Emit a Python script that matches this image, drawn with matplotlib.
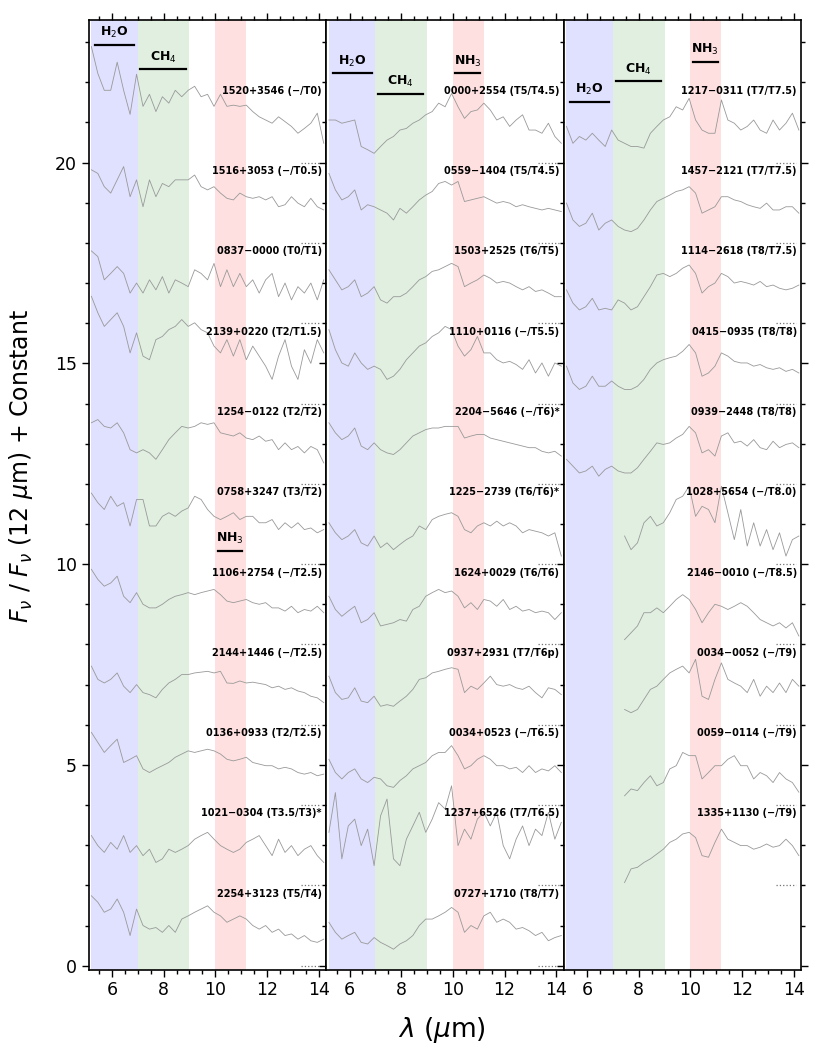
import numpy as np
import matplotlib.pyplot as plt
from matplotlib.ticker import MultipleLocator

NA = np.nan

# wavelength grid (um) the spectra were read at
WAVE = [5.2, 5.45, 5.7, 5.95, 6.2, 6.45, 6.7, 6.95, 7.2, 7.45, 7.7, 7.95, 8.2,
        8.45, 8.7, 8.95, 9.2, 9.45, 9.7, 9.95, 10.2, 10.45, 10.7, 10.95, 11.2,
        11.45, 11.7, 11.95, 12.2, 12.45, 12.7, 12.95, 13.2, 13.45, 13.7, 13.95, 14.2]

# normalised fluxes F(lambda)/F(12um), top to bottom in each panel
LEFT_NAMES = ["1520+3546 (\u2212/T0)", "1516+3053 (\u2212/T0.5)", "0837\u22120000 (T0/T1)",
              "2139+0220 (T2/T1.5)", "1254\u22120122 (T2/T2)", "0758+3247 (T3/T2)",
              "1106+2754 (\u2212/T2.5)", "2144+1446 (\u2212/T2.5)", "0136+0933 (T2/T2.5)",
              "1021\u22120304 (T3.5/T3)*", "2254+3123 (T5/T4)"]
LEFT_FLUX = [
    [2.89, 2.22, 1.80, 1.80, 2.50, 1.80, 1.20, 2.20, 1.40, 1.70, 1.27, 1.64, 1.48, 1.80, 1.64, 1.80, 1.90, 1.64, 1.70,
     1.40, 1.70, 1.40, 1.43, 1.40, 1.43, 1.27, 1.14, 1.06, 0.98, 1.14, 1.02, 0.90, 0.73, 0.85, 0.98, 1.23, 0.48],
    [1.82, 1.73, 1.40, 1.24, 1.57, 1.90, 1.15, 1.57, 0.90, 1.57, 1.15, 1.48, 1.40, 1.57, 1.57, 1.57, 1.69, 1.40, 1.32,
     1.40, 1.24, 1.11, 1.07, 1.24, 1.15, 1.11, 1.15, 1.07, 1.15, 0.90, 0.95, 1.15, 0.99, 0.90, 1.11, 0.90, 0.82],
    [1.80, 1.66, 1.08, 1.24, 1.41, 1.24, 0.75, 1.00, 0.75, 1.08, 0.83, 1.16, 0.75, 1.08, 1.00, 0.91, 1.33, 1.24, 1.08,
     1.49, 0.91, 1.33, 0.91, 1.24, 0.91, 1.08, 0.75, 1.08, 1.24, 0.66, 1.00, 0.58, 0.91, 0.75, 1.00, 0.58, 1.08],
    [2.67, 2.26, 1.92, 2.09, 2.26, 1.92, 1.26, 1.76, 1.18, 1.09, 1.59, 1.67, 1.84, 1.92, 2.09, 1.92, 2.01, 1.84, 1.76,
     1.43, 1.26, 1.59, 1.18, 1.59, 1.09, 1.43, 1.18, 0.93, 0.60, 1.18, 1.59, 0.93, 0.60, 1.34, 1.00, 1.59, 1.26],
    [1.52, 1.60, 1.43, 1.39, 1.52, 1.27, 0.85, 0.77, 0.85, 0.77, 0.61, 0.85, 1.10, 1.27, 1.43, 1.39, 1.43, 1.52, 1.48,
     1.52, 1.27, 1.23, 1.19, 1.27, 1.14, 1.10, 1.19, 1.06, 1.10, 0.85, 1.02, 0.85, 0.93, 0.77, 0.93, 0.85, 0.52],
    [1.77, 1.53, 1.36, 1.69, 1.44, 1.53, 0.95, 1.61, 1.61, 0.95, 0.95, 1.19, 1.28, 1.19, 1.32, 1.40, 1.69, 1.61, 1.36,
     1.19, 1.11, 1.19, 1.28, 1.11, 1.19, 1.19, 1.03, 1.03, 1.11, 0.86, 1.03, 0.90, 1.03, 0.86, 0.90, 0.78, 0.86],
    [1.87, 1.62, 1.45, 1.53, 1.70, 1.20, 1.04, 1.29, 1.00, 0.91, 0.91, 1.00, 1.12, 1.20, 1.24, 1.29, 1.24, 1.29, 1.33,
     1.37, 1.24, 1.08, 1.04, 1.08, 1.12, 1.04, 1.00, 1.04, 0.91, 0.91, 0.83, 0.95, 0.79, 0.87, 0.83, 0.95, 0.79],
    [1.46, 1.13, 1.04, 1.13, 1.29, 0.96, 0.80, 1.00, 0.80, 0.75, 0.67, 0.88, 1.04, 1.13, 1.25, 1.25, 1.29, 1.31, 1.33,
     1.29, 1.33, 1.04, 1.03, 1.09, 1.04, 1.06, 1.03, 1.00, 0.92, 0.96, 0.88, 0.92, 0.84, 0.80, 0.71, 0.67, 0.55],
    [1.81, 1.56, 1.31, 1.48, 1.64, 1.06, 1.14, 1.23, 0.90, 0.81, 0.90, 0.98, 1.06, 1.19, 1.27, 1.35, 1.31, 1.35, 1.39,
     1.35, 1.27, 1.14, 1.10, 1.14, 1.19, 1.06, 1.02, 0.98, 0.98, 0.90, 0.94, 0.90, 0.81, 0.77, 0.81, 0.73, 0.77],
    [1.24, 0.99, 0.82, 1.07, 0.90, 1.24, 0.82, 0.99, 0.74, 0.90, 0.57, 0.66, 0.90, 0.82, 0.90, 0.99, 1.15, 1.24, 1.32,
     1.15, 0.99, 0.90, 0.82, 0.90, 1.07, 1.15, 1.24, 0.99, 0.74, 1.15, 0.82, 0.99, 0.74, 0.90, 0.99, 0.74, 0.57],
    [1.74, 1.58, 1.33, 1.41, 1.66, 1.33, 0.75, 1.41, 1.00, 0.91, 0.95, 0.83, 1.00, 0.83, 1.16, 1.24, 1.33, 1.41, 1.49,
     1.33, 1.24, 1.08, 1.16, 1.24, 1.16, 1.00, 0.91, 1.00, 0.83, 0.91, 0.75, 0.79, 0.66, 0.75, 0.62, 0.58, 0.66],
]

MID_NAMES = ["0000+2554 (T5/T4.5)", "0559\u22121404 (T5/T4.5)", "1503+2525 (T6/T5)",
             "1110+0116 (\u2212/T5.5)", "2204\u22125646 (\u2212/T6)*", "1225\u22122739 (T6/T6)*",
             "1624+0029 (T6/T6)", "0937+2931 (T7/T6p)", "0034+0523 (\u2212/T6.5)",
             "1237+6526 (T7/T6.5)", "0727+1710 (T8/T7)"]
MID_FLUX = [
    [1.06, 1.06, 0.98, 1.02, 1.06, 0.40, 0.32, 0.23, 0.40, 0.56, 0.65, 0.81, 0.85, 0.98, 1.06, 1.19, 1.27, 1.48, 1.39,
     1.72, 1.39, 1.10, 1.27, 1.31, 1.48, 1.31, 1.06, 1.14, 0.90, 1.06, 1.19, 0.81, 0.81, 0.73, 0.98, 0.65, 0.48],
    [1.73, 1.32, 1.07, 1.15, 1.32, 0.82, 0.95, 0.90, 0.82, 0.74, 0.57, 0.86, 0.74, 0.90, 1.07, 1.19, 1.28, 1.48, 1.53,
     1.44, 1.53, 1.03, 1.07, 1.11, 1.15, 1.07, 0.99, 1.03, 0.99, 0.90, 0.95, 0.90, 0.86, 0.82, 0.86, 0.82, 0.78],
    [1.33, 1.08, 0.83, 0.91, 1.08, 0.66, 0.75, 0.91, 0.58, 0.50, 0.66, 0.66, 0.75, 0.91, 1.08, 1.16, 1.29, 1.33, 1.41,
     1.49, 1.41, 0.91, 1.00, 1.08, 1.20, 1.12, 1.00, 1.04, 1.00, 0.91, 0.83, 0.91, 0.79, 0.83, 0.75, 0.66, 0.66],
    [1.84, 1.34, 1.01, 0.93, 1.26, 1.01, 0.85, 0.93, 0.85, 0.60, 0.68, 0.85, 1.09, 1.26, 1.43, 1.51, 1.67, 1.76, 1.92,
     1.84, 1.43, 1.18, 1.34, 1.67, 1.26, 1.26, 1.09, 1.01, 1.05, 0.97, 0.85, 1.09, 0.76, 1.01, 0.68, 1.01, 0.93],
    [1.52, 1.27, 1.10, 1.19, 1.39, 0.94, 0.85, 1.02, 0.85, 0.77, 0.73, 0.85, 1.02, 1.19, 1.27, 1.35, 1.39, 1.39, 1.43,
     1.43, 1.43, 1.14, 1.19, 1.23, 1.23, 1.14, 1.10, 1.06, 1.02, 0.98, 0.94, 0.90, 0.90, 0.81, 0.77, 0.81, 0.69],
    [1.03, 0.78, 0.61, 0.70, 0.86, 0.53, 0.45, 0.70, 0.41, 0.53, 0.36, 0.49, 0.61, 0.70, 0.95, 0.86, 1.11, 1.19, 1.24,
     1.28, 1.19, 0.86, 0.78, 0.95, 1.03, 0.95, 1.07, 0.95, 1.03, 0.95, 0.78, 0.86, 0.82, 0.78, 0.70, 0.78, 0.20],
    [1.20, 0.87, 0.70, 0.83, 0.95, 0.54, 0.62, 0.79, 0.46, 0.50, 0.54, 0.62, 0.58, 0.87, 0.95, 1.20, 1.29, 1.37, 1.29,
     1.33, 1.20, 0.91, 1.04, 0.87, 1.12, 1.08, 0.95, 1.12, 0.87, 0.95, 0.83, 0.87, 0.79, 0.83, 0.79, 0.62, 0.79],
    [1.21, 0.80, 0.63, 0.67, 0.92, 0.59, 0.55, 0.71, 0.46, 0.50, 0.46, 0.59, 0.71, 0.88, 1.13, 1.17, 1.29, 1.33, 1.38,
     1.42, 1.38, 0.80, 0.96, 0.88, 1.04, 1.21, 1.00, 0.96, 1.00, 0.92, 0.88, 0.96, 0.80, 0.67, 0.92, 0.88, 0.75],
    [1.14, 0.81, 0.65, 0.81, 0.90, 0.65, 0.56, 0.69, 0.65, 0.48, 0.44, 0.61, 0.73, 0.90, 0.98, 1.06, 1.23, 1.31, 1.31,
     1.48, 1.23, 0.90, 0.98, 1.14, 1.23, 1.14, 0.98, 0.98, 0.90, 0.94, 0.81, 0.98, 0.81, 0.90, 0.85, 0.98, 0.81],
    [1.32, 2.31, 0.66, 1.48, 1.65, 0.99, 1.40, 0.49, 1.73, 2.15, 0.66, 0.49, 1.15, 1.48, 1.82, 1.32, 1.65, 2.06, 1.90,
     2.48, 0.99, 1.40, 1.15, 1.65, 1.82, 1.48, 1.82, 0.99, 0.66, 1.15, 1.48, 0.99, 1.40, 1.24, 1.82, 1.15, 1.57],
    [1.08, 0.83, 0.66, 0.75, 0.83, 0.58, 0.54, 0.70, 0.58, 0.50, 0.41, 0.54, 0.62, 0.75, 1.00, 1.16, 1.16, 1.24, 1.33,
     1.45, 1.33, 0.83, 1.00, 0.91, 1.24, 1.33, 1.08, 1.16, 1.08, 0.91, 0.95, 0.87, 0.75, 0.83, 0.62, 0.70, 0.75],
]

RIGHT_NAMES = ["1217\u22120311 (T7/T7.5)", "1457\u22122121 (T7/T7.5)", "1114\u22122618 (T8/T7.5)",
               "0415\u22120935 (T8/T8)", "0939\u22122448 (T8/T8)", "1028+5654 (\u2212/T8.0)",
               "2146\u22120010 (\u2212/T8.5)", "0034\u22120052 (\u2212/T9)", "0059\u22120114 (\u2212/T9)",
               "1335+1130 (\u2212/T9)"]
RIGHT_FLUX = [
    [0.90, 0.48, 0.65, 0.56, 0.73, 0.56, 0.40, 0.81, 0.56, 0.48, 0.40, 0.40, 0.36, 0.73, 0.90, 1.06, 1.14, 1.39, 1.31,
     1.60, 1.06, 0.81, 0.73, 0.73, 1.56, 1.06, 0.98, 0.81, 0.90, 1.06, 0.81, 0.73, 1.06, 0.81, 0.98, 1.23, 0.81],
    [0.99, 0.57, 0.41, 0.49, 0.74, 0.32, 0.49, 0.57, 0.41, 0.32, 0.28, 0.36, 0.57, 0.82, 1.03, 1.11, 1.19, 1.28, 1.32,
     1.40, 1.24, 0.74, 0.82, 0.90, 1.15, 1.15, 1.07, 1.03, 0.95, 0.90, 0.86, 0.99, 0.82, 0.82, 0.90, 0.90, 0.74],
    [0.83, 0.50, 0.33, 0.41, 0.62, 0.33, 0.37, 0.33, 0.58, 0.50, 0.33, 0.41, 0.66, 0.91, 1.20, 1.24, 1.16, 1.24, 1.37,
     1.45, 1.24, 0.75, 0.91, 1.00, 1.24, 1.16, 1.00, 1.04, 1.00, 0.95, 1.04, 0.91, 0.95, 0.87, 0.83, 0.87, 0.95],
    [0.93, 0.51, 0.35, 0.43, 0.68, 0.43, 0.43, 0.56, 0.43, 0.35, 0.35, 0.43, 0.60, 0.85, 1.01, 1.09, 1.14, 1.18, 1.30,
     1.47, 1.26, 0.68, 0.76, 0.93, 1.26, 1.18, 1.05, 1.01, 1.01, 0.93, 0.97, 0.89, 0.85, 0.89, 0.80, 0.85, 0.76],
    [0.61, 0.44, 0.27, 0.32, 0.44, 0.19, 0.36, 0.44, 0.32, 0.27, 0.27, 0.40, 0.61, 0.81, 1.02, 0.98, 1.02, 1.14, 1.23,
     1.43, 1.27, 0.77, 0.85, 0.69, 1.19, 1.27, 1.02, 1.06, 0.94, 1.10, 0.90, 0.85, 1.06, 0.90, 0.98, 1.02, 0.90],
    [NA, NA, NA, NA, NA, NA, NA, NA, NA, 0.70, 0.36, 0.53, 1.03, 1.19, 0.95, 1.03, 1.28, 1.61, 1.69,
     1.94, 1.19, 1.44, 1.36, 1.03, 1.94, 1.28, 0.61, 1.36, 0.45, 1.03, 0.45, 0.86, 0.36, 0.78, 0.20, 0.61, 0.70],
    [NA, NA, NA, NA, NA, NA, NA, NA, NA, 0.12, 0.29, 0.46, 0.79, 0.79, 0.91, 0.79, 0.95, 1.12, 1.24,
     1.12, 0.87, 0.54, 0.79, 1.00, 0.95, 0.87, 0.95, 1.04, 0.95, 0.79, 0.62, 0.54, 0.46, 0.54, 0.41, 0.54, 0.21],
    [NA, NA, NA, NA, NA, NA, NA, NA, NA, 0.38, 0.30, 0.38, 0.63, 0.88, 0.96, 1.13, 1.29, 1.38, 1.46,
     1.29, 1.63, 0.71, 0.63, 1.13, 1.54, 1.13, 1.04, 0.96, 0.80, 1.13, 0.71, 0.96, 0.80, 1.04, 0.80, 1.13, 0.96],
    [NA, NA, NA, NA, NA, NA, NA, NA, NA, 0.23, 0.40, 0.36, 0.56, 0.73, 0.48, 0.56, 0.90, 0.98, 1.31,
     1.23, 1.23, 0.65, 0.81, 0.98, 0.98, 1.14, 1.23, 0.98, 0.98, 0.65, 0.81, 0.73, 0.56, 0.81, 0.65, 0.56, 0.32],
    [NA, NA, NA, NA, NA, NA, NA, NA, NA, 0.07, 0.41, 0.45, 0.57, 0.66, 0.78, 0.90, 1.07, 1.15, 1.28,
     1.32, 1.19, 0.74, 0.70, 1.07, 1.40, 1.15, 1.07, 0.99, 0.99, 0.90, 0.95, 1.03, 0.95, 0.99, 1.15, 0.99, 0.74],
]

# molecular band regions (um)
BANDS = [("H$_2$O", 5.2, 7.0, "blue"), ("CH$_4$", 7.0, 9.0, "green"), ("NH$_3$", 10.0, 11.2, "red")]
BAR_X = [(5.35, 6.85), (7.1, 8.85), (10.1, 11.05)]
# height of the H2O, CH4, NH3 markers in each panel
BAR_Y = [(22.93, 22.32, 10.32), (22.22, 21.72, 22.22), (21.52, 22.02, 22.51)]

panels = [(LEFT_NAMES, LEFT_FLUX), (MID_NAMES, MID_FLUX), (RIGHT_NAMES, RIGHT_FLUX)]

fig, axes = plt.subplots(1, 3, figsize=(8.22, 10.54), dpi=100, sharey=True)
fig.subplots_adjust(left=0.108, right=0.975, bottom=0.08, top=0.981, wspace=0)

wave = np.array(WAVE)
for ax, (names, fluxes), bar_y in zip(axes, panels, BAR_Y):
    for (mol, x0, x1, col), (bx0, bx1), by in zip(BANDS, BAR_X, bar_y):
        ax.axvspan(x0, x1, color=col, alpha=0.12, lw=0, zorder=0)
        ax.plot([bx0, bx1], [by, by], color="k", lw=1.6)
        ax.text((bx0 + bx1) / 2, by + 0.12, mol, ha="center", va="bottom",
                fontsize=9, fontweight="bold")
    for i, (name, flux) in enumerate(zip(names, fluxes)):
        off = 20 - 2 * i
        ax.plot(wave, np.array(flux) + off, color="0.6", lw=0.6)
        ax.plot([13.3, 14.1], [off, off], ls=":", color="0.45", lw=0.9)
        ax.text(14.12, off + 1.79, name, ha="right", va="center", fontsize=7, fontweight="bold")

    ax.set_xlim(5.1, 14.3)
    ax.set_ylim(-0.1, 23.55)
    ax.xaxis.set_major_locator(MultipleLocator(2))
    ax.xaxis.set_minor_locator(MultipleLocator(0.5))
    ax.yaxis.set_major_locator(MultipleLocator(5))
    ax.yaxis.set_minor_locator(MultipleLocator(1))
    ax.tick_params(which="both", direction="out", top=True, right=True, labelsize=12.5, width=1)
    ax.tick_params(which="major", length=5)
    ax.tick_params(which="minor", length=3)
    for s in ax.spines.values():
        s.set_linewidth(1.2)

axes[0].set_ylabel(r"$F_\nu$ / $F_\nu$ (12 $\mu$m) + Constant", fontsize=17)
axes[0].yaxis.set_label_coords(-0.225, 0.53)
axes[1].set_xlabel(r"$\lambda$ ($\mu$m)", fontsize=19)
axes[1].xaxis.set_label_coords(0.485, -0.048)

fig.savefig("out.png", dpi=100)
